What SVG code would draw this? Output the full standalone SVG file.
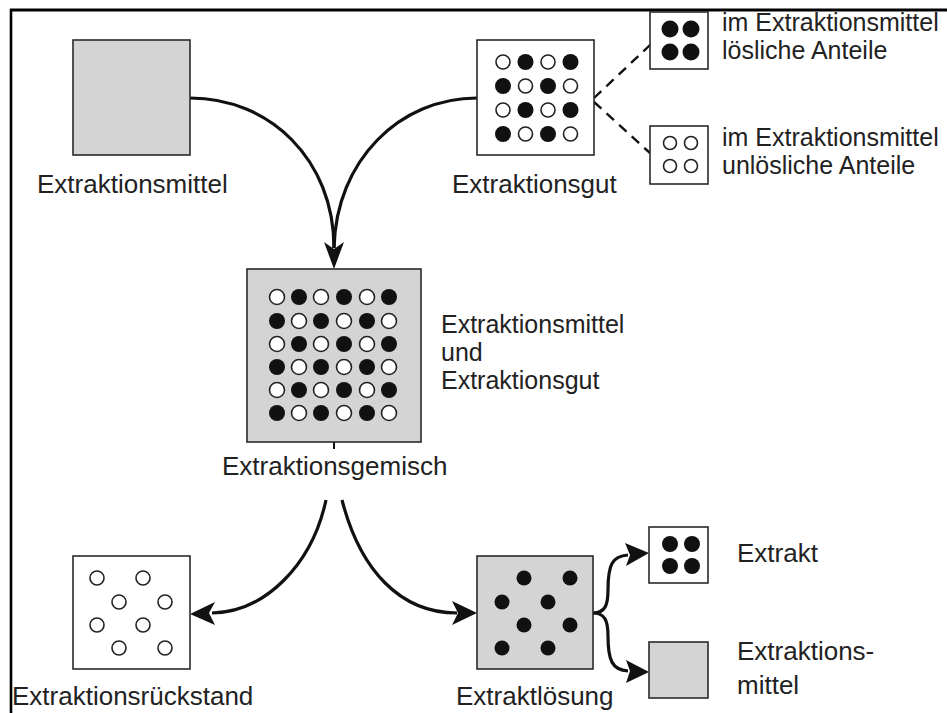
<svg xmlns="http://www.w3.org/2000/svg" width="947" height="713" viewBox="0 0 947 713">
<style>
.box{stroke:#2a2a2a;stroke-width:1.6;fill:#fff}
.gray{fill:#d4d4d4}
.dot{fill:#111}
.hol{fill:#fff;stroke:#222;stroke-width:1.6}
.lbl{font-family:"Liberation Sans",Arial,sans-serif;font-size:26px;fill:#222}
.ml{font-size:25px}
.con{fill:none;stroke:#111;stroke-width:3.2}
.dash{fill:none;stroke:#111;stroke-width:2.4;stroke-dasharray:10 7}
.head{fill:#111}
</style>
<rect width="947" height="713" fill="#fff"/>
<g id="frame"><line x1="10" y1="10" x2="947" y2="10" stroke="#000" stroke-width="3"/><line x1="11" y1="9" x2="11" y2="713" stroke="#000" stroke-width="2.6"/></g>

<g id="connectors">
<path class="con" d="M190,98 C270,98 334,160 334,248"/>
<path class="con" d="M477,98 C400,98 336,160 334,248"/>
<polygon class="head" points="334,269 324,242 334,249 344,242"/>
<line x1="334" y1="442" x2="334" y2="449" stroke="#111" stroke-width="2"/>
<path class="dash" d="M594,98 L650,45"/>
<path class="dash" d="M594,102 L650,153"/>
<path class="con" d="M326,500 C312,565 265,612 212,613"/>
<polygon class="head" points="190,614 215,602 209,613 215,625"/>
<path class="con" d="M342,500 C360,570 400,613 457,613"/>
<polygon class="head" points="477,613 452,601 458,613 452,625"/>
<path class="con" d="M593,613 C605,613 608,605 608,590 C608,565 612,556 628,555"/>
<polygon class="head" points="649,553 625,543 630,555 626,566"/>
<path class="con" d="M593,613 C605,613 608,621 608,636 C608,660 612,670 628,671"/>
<polygon class="head" points="649,672 626,660 630,671 626,683"/>
</g>

<g id="extraktionsmittel">
<rect class="box gray" x="73" y="40" width="117" height="115"/>
<text class="lbl" x="37" y="193">Extraktionsmittel</text>
</g>

<g id="extraktionsgut">
<rect class="box" x="477" y="40" width="117" height="115"/>
<circle class="hol" cx="503" cy="62" r="7"/><circle class="dot" cx="525.5" cy="62" r="8"/><circle class="hol" cx="548" cy="62" r="7"/><circle class="dot" cx="570.5" cy="62" r="8"/>
<circle class="dot" cx="503" cy="86" r="8"/><circle class="hol" cx="525.5" cy="86" r="7"/><circle class="dot" cx="548" cy="86" r="8"/><circle class="hol" cx="570.5" cy="86" r="7"/>
<circle class="hol" cx="503" cy="110" r="7"/><circle class="dot" cx="525.5" cy="110" r="8"/><circle class="hol" cx="548" cy="110" r="7"/><circle class="dot" cx="570.5" cy="110" r="8"/>
<circle class="dot" cx="503" cy="134" r="8"/><circle class="hol" cx="525.5" cy="134" r="7"/><circle class="dot" cx="548" cy="134" r="8"/><circle class="hol" cx="570.5" cy="134" r="7"/>
<text class="lbl" x="452" y="193">Extraktionsgut</text>
</g>

<g id="loeslich">
<rect class="box" x="650" y="12" width="58" height="57"/>
<circle class="dot" cx="670" cy="29" r="8.5"/><circle class="dot" cx="691" cy="29" r="8.5"/>
<circle class="dot" cx="670" cy="52" r="8.5"/><circle class="dot" cx="691" cy="52" r="8.5"/>
<text class="lbl ml" x="722" y="31">im Extraktionsmittel</text>
<text class="lbl ml" x="722" y="59">lösliche Anteile</text>
</g>

<g id="unloeslich">
<rect class="box" x="650" y="126" width="58" height="58"/>
<circle class="hol" cx="670" cy="143" r="6.5"/><circle class="hol" cx="691" cy="143" r="6.5"/>
<circle class="hol" cx="670" cy="166" r="6.5"/><circle class="hol" cx="691" cy="166" r="6.5"/>
<text class="lbl ml" x="722" y="146">im Extraktionsmittel</text>
<text class="lbl ml" x="722" y="174">unlösliche Anteile</text>
</g>

<g id="extraktionsgemisch">
<rect class="box gray" x="247" y="269" width="174" height="173"/>
<circle class="hol" cx="277" cy="297" r="7.5"/><circle class="dot" cx="299" cy="297" r="8"/><circle class="hol" cx="321" cy="297" r="7.5"/><circle class="dot" cx="344" cy="297" r="8"/><circle class="hol" cx="367" cy="297" r="7.5"/><circle class="dot" cx="389" cy="297" r="8"/>
<circle class="dot" cx="277" cy="321" r="8"/><circle class="hol" cx="299" cy="321" r="7.5"/><circle class="dot" cx="321" cy="321" r="8"/><circle class="hol" cx="344" cy="321" r="7.5"/><circle class="dot" cx="367" cy="321" r="8"/><circle class="hol" cx="389" cy="321" r="7.5"/>
<circle class="hol" cx="277" cy="344" r="7.5"/><circle class="dot" cx="299" cy="344" r="8"/><circle class="hol" cx="321" cy="344" r="7.5"/><circle class="dot" cx="344" cy="344" r="8"/><circle class="hol" cx="367" cy="344" r="7.5"/><circle class="dot" cx="389" cy="344" r="8"/>
<circle class="dot" cx="277" cy="367" r="8"/><circle class="hol" cx="299" cy="367" r="7.5"/><circle class="dot" cx="321" cy="367" r="8"/><circle class="hol" cx="344" cy="367" r="7.5"/><circle class="dot" cx="367" cy="367" r="8"/><circle class="hol" cx="389" cy="367" r="7.5"/>
<circle class="hol" cx="277" cy="390" r="7.5"/><circle class="dot" cx="299" cy="390" r="8"/><circle class="hol" cx="321" cy="390" r="7.5"/><circle class="dot" cx="344" cy="390" r="8"/><circle class="hol" cx="367" cy="390" r="7.5"/><circle class="dot" cx="389" cy="390" r="8"/>
<circle class="dot" cx="277" cy="413" r="8"/><circle class="hol" cx="299" cy="413" r="7.5"/><circle class="dot" cx="321" cy="413" r="8"/><circle class="hol" cx="344" cy="413" r="7.5"/><circle class="dot" cx="367" cy="413" r="8"/><circle class="hol" cx="389" cy="413" r="7.5"/>
<text class="lbl ml" x="441" y="333">Extraktionsmittel</text>
<text class="lbl ml" x="441" y="361">und</text>
<text class="lbl ml" x="441" y="389">Extraktionsgut</text>
<text class="lbl" x="222" y="475">Extraktionsgemisch</text>
</g>

<g id="extraktionsrueckstand">
<rect class="box" x="73" y="556" width="117" height="113"/>
<circle class="hol" cx="97" cy="578" r="7"/><circle class="hol" cx="143" cy="578" r="7"/>
<circle class="hol" cx="119" cy="602" r="7"/><circle class="hol" cx="165" cy="602" r="7"/>
<circle class="hol" cx="97" cy="625" r="7"/><circle class="hol" cx="143" cy="625" r="7"/>
<circle class="hol" cx="119" cy="648" r="7"/><circle class="hol" cx="165" cy="648" r="7"/>
<text class="lbl" x="12" y="705">Extraktionsrückstand</text>
</g>

<g id="extraktloesung">
<rect class="box gray" x="477" y="556" width="116" height="113"/>
<circle class="dot" cx="524" cy="578" r="7.5"/><circle class="dot" cx="570" cy="578" r="7.5"/>
<circle class="dot" cx="502" cy="602" r="7.5"/><circle class="dot" cx="548" cy="602" r="7.5"/>
<circle class="dot" cx="524" cy="625" r="7.5"/><circle class="dot" cx="570" cy="625" r="7.5"/>
<circle class="dot" cx="502" cy="648" r="7.5"/><circle class="dot" cx="548" cy="648" r="7.5"/>
<text class="lbl" x="456" y="705">Extraktlösung</text>
</g>

<g id="extrakt">
<rect class="box" x="649" y="527" width="59" height="56"/>
<circle class="dot" cx="670" cy="544" r="8"/><circle class="dot" cx="692" cy="544" r="8"/>
<circle class="dot" cx="670" cy="566" r="8"/><circle class="dot" cx="692" cy="566" r="8"/>
<text class="lbl" x="737" y="562">Extrakt</text>
</g>

<g id="extraktionsmittel2">
<rect class="box gray" x="649" y="642" width="59" height="56"/>
<text class="lbl" x="737" y="660">Extraktions-</text>
<text class="lbl" x="737" y="694">mittel</text>
</g>
</svg>
